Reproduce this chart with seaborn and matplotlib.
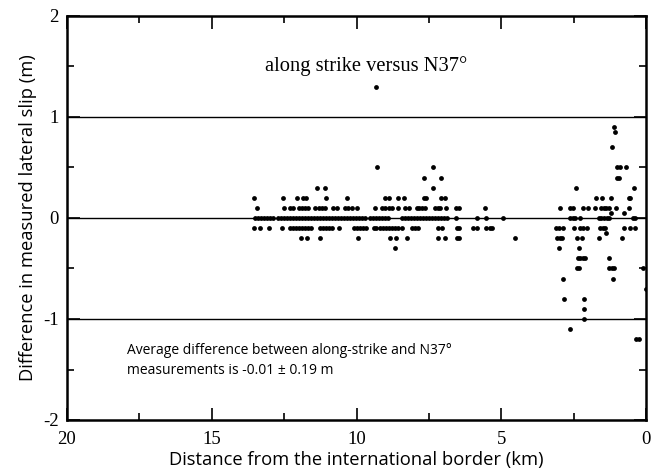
import numpy as np
import pandas as pd
import matplotlib
matplotlib.use("Agg")
import matplotlib.pyplot as plt
from matplotlib.ticker import MultipleLocator
import seaborn as sns

# distance from border (km) of each measurement, grouped by slip difference (m)
km_p13 = [9.32]
km_p09 = [1.09]
km_p085 = [1.07]
km_p07 = [1.17]
km_p05 = [9.29, 7.36, 1.00, 0.91, 0.68]
km_p04 = [7.66, 7.08, 1.00, 0.93]
km_p03 = [11.36, 11.08, 7.37, 2.41, 0.41]
km_p02 = [13.54, 12.54, 12.06, 11.85, 11.76, 11.06, 10.33, 9.01, 8.89, 8.55,
          8.35, 7.68, 7.60, 7.07, 6.93, 1.73, 1.52, 1.22, 0.60, 0.54]
km_p01 = [13.44, 12.52, 12.29, 12.18, 12.00, 11.89, 11.77, 11.66, 11.43, 11.31,
          11.20, 11.08, 10.80, 10.68, 10.39, 10.28, 10.16, 9.99, 9.35, 9.12,
          9.01, 8.89, 8.78, 8.57, 8.32, 8.20, 7.91, 7.83, 7.74, 7.63,
          7.28, 7.19, 7.11, 6.91, 6.56, 6.47, 5.55, 2.98, 2.61, 2.52,
          2.19, 2.02, 1.75, 1.54, 1.44, 1.37, 1.29, 1.03, 0.60]
km_p005 = [1.20, 0.77]
km_00 = [13.50, 13.40, 13.29, 13.19, 13.09, 12.98, 12.88, 12.71, 12.60, 12.50,
         12.40, 12.29, 12.19, 12.08, 11.98, 11.88, 11.77, 11.67, 11.57, 11.46,
         11.36, 11.25, 11.15, 11.05, 10.94, 10.84, 10.74, 10.63, 10.53, 10.43,
         10.32, 10.22, 10.11, 10.01, 9.91, 9.80, 9.70, 9.53, 9.42, 9.32,
         9.22, 9.11, 9.01, 8.90, 8.42, 8.32, 8.21, 8.11, 8.01, 7.90,
         7.80, 7.69, 7.59, 7.49, 7.38, 7.28, 7.18, 7.07, 6.97, 6.87,
         6.55, 5.84, 5.52, 4.94, 2.61, 2.52, 2.44, 2.27, 1.61, 1.54,
         1.44, 1.35, 1.29, 0.45, 0.37]
km_m01 = [13.54, 13.35, 13.01, 12.58, 12.29, 12.19, 12.08, 11.98, 11.88, 11.77,
          11.67, 11.57, 11.25, 11.15, 11.05, 10.94, 10.84, 10.59, 10.10, 9.99,
          9.89, 9.79, 9.68, 9.41, 9.32, 9.18, 9.08, 8.97, 8.87, 8.77,
          8.66, 8.56, 8.43, 8.09, 7.99, 7.86, 7.19, 7.05, 6.53, 6.47,
          5.96, 5.84, 5.53, 5.38, 5.32, 3.10, 3.02, 2.87, 2.50, 2.27,
          2.19, 2.04, 1.58, 1.48, 1.40, 0.77, 0.54, 0.39]
km_m015 = [1.37]
km_m02 = [11.91, 11.71, 11.25, 9.96, 8.86, 8.64, 8.26, 7.17, 6.96, 6.53,
          6.47, 4.54, 3.07, 2.98, 2.90, 2.38, 2.21, 1.61, 0.82]
km_m03 = [8.66, 3.02, 2.30]
km_m04 = [2.36, 2.27, 2.17, 2.09, 1.28]
km_m05 = [2.38, 2.33, 1.28, 1.19, 1.12, 0.10]
km_m06 = [2.85, 1.15]
km_m07 = [0.0]
km_m08 = [2.82, 2.15]
km_m09 = [2.15]
km_m10 = [2.13]
km_m11 = [2.64]
km_m12 = [0.34, 0.24]

slip_levels = [1.3, 0.9, 0.85, 0.7, 0.5, 0.4, 0.3, 0.2, 0.1, 0.05, 0.0,
               -0.1, -0.15, -0.2, -0.3, -0.4, -0.5, -0.6, -0.7, -0.8, -0.9,
               -1.0, -1.1, -1.2]
km_groups = [km_p13, km_p09, km_p085, km_p07, km_p05, km_p04, km_p03, km_p02,
             km_p01, km_p005, km_00, km_m01, km_m015, km_m02, km_m03, km_m04,
             km_m05, km_m06, km_m07, km_m08, km_m09, km_m10, km_m11, km_m12]

ref_lines = [1, 0, -1]
title_text = "along strike versus N37°"
note_text = ("Average difference between along-strike and N37°\n"
             "measurements is -0.01 \u00b1 0.19 m")

df = pd.DataFrame({
    "distance": [d for grp in km_groups for d in grp],
    "diff": [lvl for lvl, grp in zip(slip_levels, km_groups) for _ in grp],
})

sns.set_style("ticks")
plt.rcParams["axes.unicode_minus"] = False
plt.rcParams["font.family"] = ["Open Sans", "DejaVu Sans"]
for key in ["text.color", "axes.labelcolor", "xtick.color", "ytick.color",
            "axes.edgecolor"]:
    plt.rcParams[key] = "black"

fig = plt.figure(figsize=(6.59, 4.74), dpi=100)
ax = fig.add_axes([67 / 659, 1 - 420 / 474, 579 / 659, 404 / 474])

for yv in ref_lines:
    ax.axhline(yv, color="black", lw=1.0, zorder=1)

sns.scatterplot(data=df, x="distance", y="diff", ax=ax, color="black",
                s=12, linewidth=0, zorder=3, legend=False)

ax.set_xlim(20, 0)
ax.set_ylim(-2, 2)
ax.xaxis.set_major_locator(MultipleLocator(5))
ax.xaxis.set_minor_locator(MultipleLocator(2.5))
ax.yaxis.set_major_locator(MultipleLocator(1))
ax.yaxis.set_minor_locator(MultipleLocator(0.5))
ax.tick_params(which="both", direction="in", top=True, right=True,
               width=1.2, color="black")
ax.tick_params(which="major", length=9)
ax.tick_params(which="minor", length=5)
ax.tick_params(axis="x", pad=8)
ax.tick_params(axis="y", pad=6)
for lab in ax.get_xticklabels() + ax.get_yticklabels():
    lab.set_fontfamily(["Liberation Serif", "DejaVu Serif"])
    lab.set_fontsize(13.5)
for sp in ax.spines.values():
    sp.set_linewidth(1.8)
    sp.set_color("black")

ax.set_xlabel("Distance from the international border (km)", fontsize=13.2,
              labelpad=2)
ax.set_ylabel("Difference in measured lateral slip (m)", fontsize=13.2,
              labelpad=4)

ax.text(9.66, 1.5, title_text, ha="center", va="center", fontsize=14.8,
        family=["Liberation Serif", "DejaVu Serif"])
ax.text(17.93, -1.41, note_text, ha="left", va="center", fontsize=10,
        linespacing=1.5)

fig.savefig("out.png", dpi=100)
